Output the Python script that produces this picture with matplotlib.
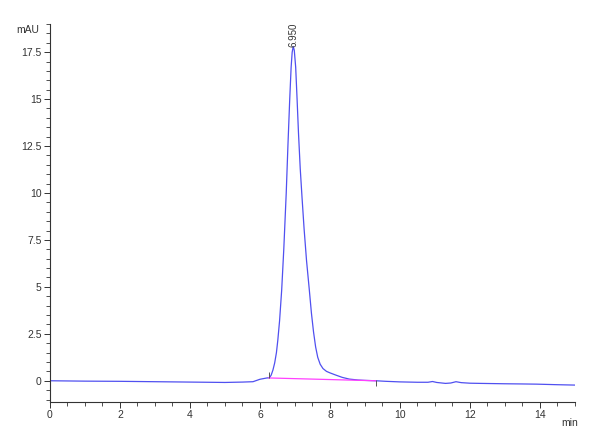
import matplotlib
matplotlib.use('Agg')
import matplotlib.pyplot as plt
from matplotlib.ticker import MultipleLocator

# chromatogram trace (time in min, signal in mAU)
times = [0, 1, 2, 3, 4, 4.5, 5, 5.5, 5.8, 6.0, 6.2, 6.27, 6.32, 6.37,
         6.42, 6.47, 6.51, 6.56, 6.62, 6.68, 6.75, 6.80, 6.85, 6.89, 6.92,
         6.95, 6.98, 7.02, 7.06, 7.10, 7.15, 7.20, 7.26, 7.33, 7.41, 7.47,
         7.53, 7.59, 7.65, 7.72, 7.80, 7.90, 8.0, 8.17, 8.35, 8.55,
         8.8, 9.0, 9.31, 9.6, 10.0, 10.5, 10.8, 10.93, 11.05, 11.3, 11.45,
         11.6, 11.75, 12.0, 12.3, 13.0, 13.5, 13.9, 14.5, 15.0]
signal = [0.0, -0.02, -0.03, -0.05, -0.07, -0.08, -0.09, -0.07, -0.05, 0.08,
          0.15, 0.16, 0.3, 0.57, 0.95, 1.5, 2.17, 3.2, 4.83, 7.0, 10.0,
          12.6, 15.0, 16.7, 17.5, 17.8, 17.6, 16.7, 15.0, 13.2, 11.3, 9.8,
          8.1, 6.4, 4.83, 3.6, 2.6, 1.8, 1.25, 0.88, 0.65, 0.5, 0.42, 0.3,
          0.18, 0.09, 0.04, 0.02, 0.0, -0.03, -0.06, -0.08, -0.08,
          -0.04, -0.09, -0.14, -0.12, -0.05, -0.1, -0.13, -0.14, -0.16,
          -0.17, -0.18, -0.21, -0.23]

# integration baseline
base_t = [6.25, 9.31]
base_v = [0.15, 0.0]

peak_time = 6.950
label_y = 17.75

plt.rcParams['font.family'] = ['Liberation Sans', 'DejaVu Sans']

fig = plt.figure(figsize=(6, 4.4), dpi=100)
ax = fig.add_axes([0.0833, 0.0864, 0.875, 0.8591])

ax.plot(times, signal, color='#5050f0', linewidth=0.9)
ax.plot(base_t, base_v, color='#ff40ff', linewidth=0.9)
ax.plot([base_t[0]], [base_v[0] + 0.15], marker='|', color='#555555',
        markersize=4, markeredgewidth=0.7)
ax.plot([base_t[1]], [base_v[1] - 0.12], marker='|', color='#555555',
        markersize=4, markeredgewidth=0.7)

ax.text(peak_time, label_y, f'{peak_time:.3f}', rotation=90,
        ha='center', va='bottom', fontsize=7, color='#333333')

ax.set_xlim(0, 15)
ax.set_ylim(-1.13, 19)
ax.spines['top'].set_visible(False)
ax.spines['right'].set_visible(False)
ax.spines['left'].set_color('#333333')
ax.spines['bottom'].set_color('#333333')

ax.set_xticks([0, 2, 4, 6, 8, 10, 12, 14])
ax.xaxis.set_minor_locator(MultipleLocator(0.5))
ax.set_yticks([0, 2.5, 5, 7.5, 10, 12.5, 15, 17.5])
ax.set_yticklabels(['0', '2.5', '5', '7.5', '10', '12.5', '15', '17.5'])
ax.yaxis.set_minor_locator(MultipleLocator(0.5))
ax.tick_params(which='major', length=4, width=0.7, labelsize=7.5,
               colors='#333333', pad=2)
ax.tick_params(which='minor', length=3, width=0.6, colors='#333333')

ax.text(-0.02, 0.985, 'mAU', transform=ax.transAxes, ha='right',
        va='center', fontsize=7.5, color='#333333')
ax.text(0.99, -0.055, 'min', transform=ax.transAxes, ha='center',
        va='center', fontsize=7.5, color='#333333')

plt.savefig('out.png', dpi=100)
